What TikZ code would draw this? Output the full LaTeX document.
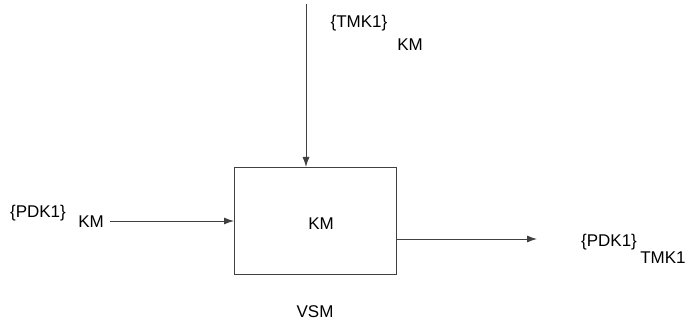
\documentclass[tikz,border=0pt]{standalone}
\usepackage{fontspec}
\setmainfont{Liberation Sans}
\usetikzlibrary{arrows.meta}
\begin{document}
\begin{tikzpicture}[x=1pt,y=-1pt,
  lbl/.style={inner sep=0pt,font=\fontsize{17}{20}\selectfont},
  conn/.style={draw=black!75,line width=0.9pt,-{Latex[length=10pt,width=7pt]}}]
\useasboundingbox (0,0) rectangle (691,320);
\node[draw=black!75,line width=0.9pt,minimum width=162pt,minimum height=107pt,inner sep=0pt] (box) at (315,220.5) {};
\node[lbl] (boxlbl) at (321,224) {KM};
\node[lbl] (vsm) at (315,312) {VSM};
\coordinate (topstart) at (306,4);
\coordinate (topend) at (306,167);
\draw[conn] (topstart) -- (topend);
\node[lbl] (tmk) at (359,23) {\{TMK1\}};
\node[lbl] (tkm) at (410,45) {KM};
\node[lbl] (pdkl) at (38,213) {\{PDK1\}};
\node[lbl] (lkm) at (91,222) {KM};
\coordinate (lstart) at (110,221);
\coordinate (lend) at (234,221);
\draw[conn] (lstart) -- (lend);
\coordinate (rstart) at (396,239);
\coordinate (rend) at (537,239);
\draw[conn] (rstart) -- (rend);
\node[lbl] (pdkr) at (609,242) {\{PDK1\}};
\node[lbl] (rtmk) at (663,258) {TMK1};
\end{tikzpicture}
\end{document}
